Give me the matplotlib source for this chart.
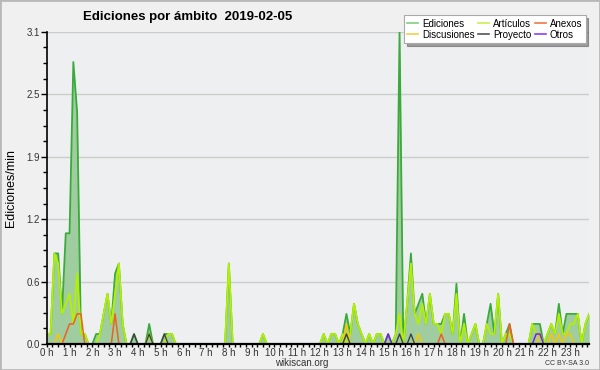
import matplotlib
matplotlib.use("Agg")
import matplotlib.pyplot as plt
import numpy as np
from matplotlib.lines import Line2D
from matplotlib.patches import Rectangle

plt.rcParams["font.family"] = ["Liberation Sans", "DejaVu Sans"]

# 10-minute slots, one row per hour (values in edits/min)
ediciones = [
    0.1, 0.1, 0.9, 0.9, 0.3, 1.1,
    1.1, 2.8, 2.3, 0.1, 0.1, 0.0,
    0.0, 0.1, 0.1, 0.3, 0.5, 0.2,
    0.7, 0.8, 0.2, 0.0, 0.0, 0.1,
    0.0, 0.0, 0.0, 0.2, 0.0, 0.0,
    0.0, 0.1, 0.1, 0.1, 0.0, 0.0,
    0.0, 0.0, 0.0, 0.0, 0.0, 0.0,
    0.0, 0.0, 0.0, 0.0, 0.0, 0.0,
    0.8, 0.0, 0.0, 0.0, 0.0, 0.0,
    0.0, 0.0, 0.0, 0.1, 0.0, 0.0,
    0.0, 0.0, 0.0, 0.0, 0.0, 0.0,
    0.0, 0.0, 0.0, 0.0, 0.0, 0.0,
    0.0, 0.1, 0.0, 0.1, 0.1, 0.0,
    0.1, 0.3, 0.1, 0.4, 0.2, 0.1,
    0.0, 0.1, 0.0, 0.1, 0.1, 0.0,
    0.1, 0.0, 0.1, 3.1, 0.0, 0.4,
    0.9, 0.3, 0.4, 0.5, 0.2, 0.5,
    0.2, 0.2, 0.2, 0.3, 0.3, 0.1,
    0.6, 0.0, 0.3, 0.0, 0.1, 0.2,
    0.0, 0.0, 0.2, 0.4, 0.1, 0.5,
    0.0, 0.1, 0.2, 0.0, 0.0, 0.0,
    0.0, 0.0, 0.2, 0.2, 0.2, 0.0,
    0.1, 0.2, 0.1, 0.4, 0.1, 0.3,
    0.3, 0.3, 0.3, 0.0, 0.2, 0.3,
]
articulos = [
    0.1, 0.1, 0.9, 0.8, 0.3, 0.4,
    0.5, 0.2, 0.7, 0.1, 0.1, 0.0,
    0.0, 0.0, 0.1, 0.3, 0.5, 0.2,
    0.5, 0.8, 0.2, 0.0, 0.0, 0.0,
    0.0, 0.0, 0.0, 0.1, 0.0, 0.0,
    0.0, 0.0, 0.1, 0.1, 0.0, 0.0,
    0.0, 0.0, 0.0, 0.0, 0.0, 0.0,
    0.0, 0.0, 0.0, 0.0, 0.0, 0.0,
    0.8, 0.0, 0.0, 0.0, 0.0, 0.0,
    0.0, 0.0, 0.0, 0.1, 0.0, 0.0,
    0.0, 0.0, 0.0, 0.0, 0.0, 0.0,
    0.0, 0.0, 0.0, 0.0, 0.0, 0.0,
    0.0, 0.1, 0.0, 0.1, 0.1, 0.0,
    0.1, 0.0, 0.1, 0.4, 0.2, 0.1,
    0.0, 0.1, 0.0, 0.1, 0.1, 0.0,
    0.0, 0.0, 0.1, 0.3, 0.0, 0.4,
    0.8, 0.3, 0.2, 0.4, 0.2, 0.5,
    0.2, 0.2, 0.1, 0.3, 0.3, 0.1,
    0.5, 0.0, 0.2, 0.0, 0.1, 0.2,
    0.0, 0.0, 0.2, 0.1, 0.1, 0.5,
    0.0, 0.1, 0.1, 0.0, 0.0, 0.0,
    0.0, 0.0, 0.2, 0.1, 0.1, 0.0,
    0.1, 0.2, 0.1, 0.3, 0.1, 0.1,
    0.2, 0.2, 0.3, 0.0, 0.2, 0.3,
]
# sparse series: slot index -> value
anexos_slots = [5, 6, 7, 8, 9, 18, 104, 122]
anexos_vals = [0.1, 0.2, 0.2, 0.3, 0.3, 0.3, 0.1, 0.2]
discusiones_slots = [3, 79, 98, 130, 133, 135, 137, 138]
discusiones_vals = [0.1, 0.2, 0.1, 0.1, 0.1, 0.1, 0.1, 0.1]
proyecto_slots = [23, 27, 31, 79, 93, 96]
proyecto_vals = [0.1, 0.1, 0.1, 0.1, 0.1, 0.1]
otros_slots = [90, 129, 130]
otros_vals = [0.1, 0.1, 0.1]

hour_labels = [f"{h} h" for h in range(24)]
y_max = 3.1


def sparse(slots, vals, n):
    arr = np.zeros(n)
    arr[slots] = vals
    return arr


n = len(ediciones)
x = np.arange(n) / 6.0

fig = plt.figure(figsize=(6, 3.7), dpi=100, facecolor="#f0f0f0")
ax = fig.add_axes([0.078, 0.070, 0.904, 0.844])
ax.set_facecolor("#eeeff0")

ax.fill_between(x, ediciones, color="#9fcd9f", lw=0, zorder=1)
ax.plot(x, ediciones, color="#3aaa3a", lw=1.3, zorder=2)
ax.plot(x, articulos, color="#b4f000", lw=1.3, zorder=2.1)
ax.plot(x, sparse(anexos_slots, anexos_vals, n), color="#f06020", lw=1.1, zorder=2.2)
ax.plot(x, sparse(discusiones_slots, discusiones_vals, n), color="#f5c800", lw=1.1, zorder=2.2)
ax.plot(x, sparse(proyecto_slots, proyecto_vals, n), color="#404040", lw=1.0, zorder=2.3)
ax.plot(x, sparse(otros_slots, otros_vals, n), color="#7a22e0", lw=1.1, zorder=2.3)

ax.set_xlim(0, x[-1])
ax.set_ylim(0, y_max)
yt = np.linspace(0, y_max, 6)
ax.set_yticks(yt)
ax.set_yticklabels([f"{v:.1f}" for v in yt])
ax.set_yticks(np.linspace(0, y_max, 21), minor=True)
ax.set_xticks(np.arange(24))
ax.set_xticklabels(hour_labels)
ax.set_xticks(np.arange(0, x[-1], 0.25), minor=True)
ax.grid(axis="y", color="#cccccc", lw=1)
ax.set_axisbelow(True)

for s in ("top", "right"):
    ax.spines[s].set_visible(False)
ax.spines["left"].set_linewidth(1.2)
ax.spines["bottom"].set_linewidth(1.6)
ax.tick_params(axis="both", which="both", direction="out", length=3, width=1, colors="black",
               labelsize=7, pad=1)
ax.tick_params(axis="x", which="both", length=2.5, pad=0.5)
ax.tick_params(axis="y", which="major", length=4)
ax.tick_params(axis="x", labelcolor="#333333")
ax.tick_params(axis="y", labelcolor="#333333")

ax.set_ylabel("Ediciones/min", fontsize=9, labelpad=7)

fig.text(0.313, 0.955, "Ediciones por ámbito  2019-02-05", ha="center", va="center",
         fontsize=9.5, fontweight="bold")
fig.text(0.503, 0.018, "wikiscan.org", ha="center", va="center", fontsize=7, color="#333333")
fig.text(0.982, 0.018, "CC BY-SA 3.0", ha="right", va="center", fontsize=5, color="#333333")

handles = [
    Line2D([], [], color="#7fd07f", lw=1.2, label="Ediciones"),
    Line2D([], [], color="#f5d040", lw=1.2, label="Discusiones"),
    Line2D([], [], color="#c8f050", lw=1.2, label="Artículos"),
    Line2D([], [], color="#555555", lw=1.2, label="Proyecto"),
    Line2D([], [], color="#f07840", lw=1.2, label="Anexos"),
    Line2D([], [], color="#9040f0", lw=1.2, label="Otros"),
]
leg = fig.legend(handles=handles, loc="upper right", bbox_to_anchor=(0.984, 0.972), ncol=3,
                 fontsize=7, handlelength=1.1, handletextpad=0.4, columnspacing=0.4,
                 labelspacing=0.1, borderpad=0.35, frameon=True, fancybox=False, shadow=True)
leg.get_frame().set_edgecolor("#aaaaaa")
leg.get_frame().set_linewidth(0.8)

fig.patches.append(Rectangle((0, 0), 1, 1, transform=fig.transFigure, fill=False,
                             edgecolor="#b8b8b8", lw=2))

fig.savefig("out.png", dpi=100, facecolor=fig.get_facecolor())
